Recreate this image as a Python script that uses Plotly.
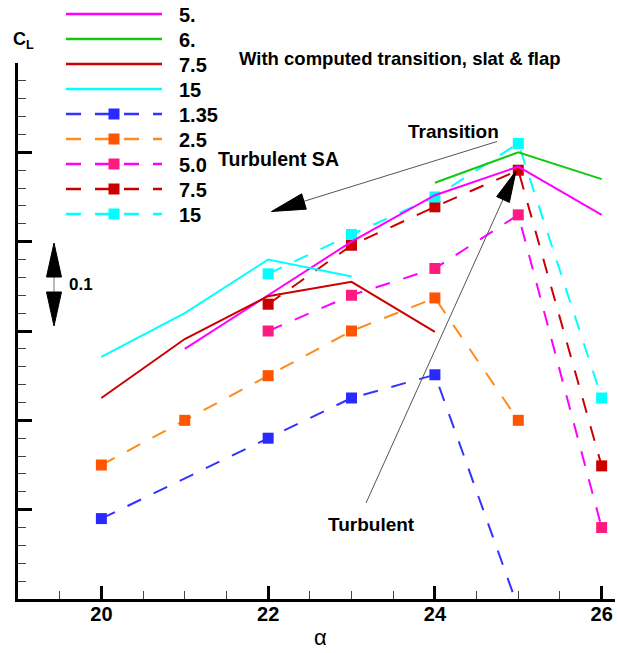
import plotly.graph_objects as go

# ---------------- data ----------------
# With computed transition (solid lines)
alpha_tr_5 = [21, 22, 23, 24, 25, 26]
cl_tr_5 = [2.680, 2.740, 2.800, 2.852, 2.884, 2.830]
alpha_tr_6 = [24, 25, 26]
cl_tr_6 = [2.866, 2.900, 2.870]
alpha_tr_75 = [20, 21, 22, 23, 24]
cl_tr_75 = [2.625, 2.691, 2.739, 2.755, 2.699]
alpha_tr_15 = [20, 21, 22, 23]
cl_tr_15 = [2.671, 2.720, 2.780, 2.761]

# Turbulent SA (dashed lines with square markers)
alpha_sa_135 = [20, 22, 23, 24, 25]
cl_sa_135 = [2.490, 2.580, 2.625, 2.651, 2.390]
alpha_sa_25 = [20, 21, 22, 23, 24, 25]
cl_sa_25 = [2.550, 2.600, 2.650, 2.700, 2.737, 2.600]
alpha_sa_50 = [22, 23, 24, 25, 26]
cl_sa_50 = [2.700, 2.740, 2.770, 2.830, 2.480]
alpha_sa_75 = [22, 23, 24, 25, 26]
cl_sa_75 = [2.730, 2.796, 2.839, 2.880, 2.549]
alpha_sa_15 = [22, 23, 24, 25, 26]
cl_sa_15 = [2.764, 2.808, 2.850, 2.910, 2.625]

x_ticks = [20, 22, 24, 26]
legend_labels = ["5.", "6.", "7.5", "15", "1.35", "2.5", "5.0", "7.5", "15"]

# ---------------- styles ----------------
MAG = "#ff00ff"
GRN = "#14c814"
DRED = "#cc0000"
CYAN = "#00ffff"
BLUE_L = "#3333ff"
BLUE_M = "#2a2aff"
ORG_L = "#ff8c1a"
ORG_M = "#ff5500"
PINK_M = "#ff1a80"
DASH = "15px,14px"
FONT = "Liberation Sans, Arial, sans-serif"

W, H = 618, 653
L, R, T, B = 18, 615, 63, 599
XR = [19.0, 26.16]
YR = [2.4, 3.0]


def pxp(px):
    return (px - L) / (R - L)


def pyp(py):
    return (B - py) / (B - T)


solid = [
    (alpha_tr_5, cl_tr_5, MAG),
    (alpha_tr_6, cl_tr_6, GRN),
    (alpha_tr_75, cl_tr_75, DRED),
    (alpha_tr_15, cl_tr_15, CYAN),
]
dashed = [
    (alpha_sa_135, cl_sa_135, BLUE_L, BLUE_M),
    (alpha_sa_25, cl_sa_25, ORG_L, ORG_M),
    (alpha_sa_50, cl_sa_50, MAG, PINK_M),
    (alpha_sa_75, cl_sa_75, DRED, DRED),
    (alpha_sa_15, cl_sa_15, CYAN, CYAN),
]

fig = go.Figure()
for (a, c, lc, mc), lab in zip(dashed, legend_labels[4:]):
    fig.add_trace(go.Scatter(x=a, y=c, mode="lines+markers", name=lab,
                             line=dict(color=lc, width=2, dash=DASH),
                             marker=dict(symbol="square", size=11, color=mc,
                                         line=dict(width=0)),
                             showlegend=False))
for (a, c, lc), lab in zip(solid, legend_labels[:4]):
    fig.add_trace(go.Scatter(x=a, y=c, mode="lines", name=lab,
                             line=dict(color=lc, width=2), showlegend=False))

shapes = []
annotations = []

# ---------------- manual legend ----------------
leg_y = [14, 39, 64, 89, 114, 139, 164, 189, 214]
leg_styles = [(c[2], None) for c in solid] + [(d[2], d[3]) for d in dashed]
for i, (lab, (lc, mc), yy) in enumerate(zip(legend_labels, leg_styles, leg_y)):
    shapes.append(dict(type="line", xref="paper", yref="paper",
                       x0=pxp(66), x1=pxp(162), y0=pyp(yy), y1=pyp(yy),
                       line=dict(color=lc, width=2.5,
                                 dash=DASH if mc else "solid")))
    if mc:
        shapes.append(dict(type="rect", xref="paper", yref="paper",
                           x0=pxp(108.5), x1=pxp(119.5),
                           y0=pyp(yy + 5.5), y1=pyp(yy - 5.5),
                           fillcolor=mc, line=dict(width=0)))
    annotations.append(dict(text="<b>%s</b>" % lab, xref="paper", yref="paper",
                            x=pxp(177), y=pyp(yy + 1), xanchor="left",
                            yanchor="middle", showarrow=False,
                            font=dict(size=20, color="black", family=FONT)))


def arrowhead(tip, base, half_w):
    dx, dy = tip[0] - base[0], tip[1] - base[1]
    ln = (dx * dx + dy * dy) ** 0.5
    nx, ny = -dy / ln * half_w, dx / ln * half_w
    pts = [tip, (base[0] + nx, base[1] + ny), (base[0] - nx, base[1] - ny)]
    path = "M " + " L ".join("%f,%f" % (pxp(p[0]), pyp(p[1])) for p in pts) + " Z"
    return dict(type="path", xref="paper", yref="paper", path=path,
                fillcolor="black", line=dict(color="black", width=1))


# Transition -> Turbulent SA arrow
shapes.append(dict(type="line", xref="paper", yref="paper",
                   x0=pxp(497), y0=pyp(141.5), x1=pxp(300), y1=pyp(202.5),
                   line=dict(color="#555555", width=1)))
shapes.append(arrowhead((271.5, 211.5), (304, 201.5), 8))
# Turbulent arrow
shapes.append(dict(type="line", xref="paper", yref="paper",
                   x0=pxp(366), y0=pyp(503), x1=pxp(505), y1=pyp(195),
                   line=dict(color="#555555", width=1)))
shapes.append(arrowhead((516, 171), (503, 199.5), 7))
# 0.1 scale double arrow
shapes.append(dict(type="line", xref="paper", yref="paper",
                   x0=pxp(54), y0=pyp(270), x1=pxp(54), y1=pyp(298),
                   line=dict(color="#777777", width=1)))
shapes.append(arrowhead((54, 243), (54, 277), 7.5))
shapes.append(arrowhead((54, 326), (54, 292), 7.5))

texts = [
    ("<b>With computed transition, slat & flap</b>", 400, 58, 18.5, "center"),
    ("<b>Transition</b>", 453, 131.5, 19, "center"),
    ("<b>Turbulent SA</b>", 278, 159, 19.5, "center"),
    ("<b>Turbulent</b>", 371, 524, 19, "center"),
    ("<b>0.1</b>", 67, 284, 17, "left"),
    ("<b>C<sub>L</sub></b>", 11, 41, 18, "left"),
    ("α", 320, 637, 22, "center"),
]
for t, x, y, s, anc in texts:
    annotations.append(dict(text=t, xref="paper", yref="paper", x=pxp(x),
                            y=pyp(y), xanchor=anc, yanchor="middle",
                            showarrow=False,
                            font=dict(size=s, color="black", family=FONT)))

fig.update_layout(
    width=W, height=H,
    margin=dict(l=L, r=W - R, t=T, b=H - B, pad=0),
    plot_bgcolor="white", paper_bgcolor="white",
    showlegend=False,
    shapes=shapes, annotations=annotations,
    font=dict(family=FONT, color="black"),
    xaxis=dict(range=XR, tickvals=x_ticks, ticks="inside", ticklen=13,
               tickwidth=3, tickcolor="black", showline=True, linewidth=3,
               linecolor="black", showgrid=False, zeroline=False,
               ticklabelstandoff=-5,
               tickfont=dict(size=20, family=FONT, color="black", weight="bold"),
               minor=dict(dtick=0.5, tick0=20, ticks="inside", ticklen=8,
                          tickwidth=1.2, tickcolor="#444444")),
    yaxis=dict(range=YR, dtick=0.1, tick0=2.4, ticks="inside", ticklen=14,
               tickwidth=3, tickcolor="black", showline=True, linewidth=3,
               linecolor="black", showgrid=False, zeroline=False,
               showticklabels=False,
               minor=dict(dtick=0.02, tick0=2.4, ticks="inside", ticklen=8,
                          tickwidth=1.2, tickcolor="#444444")),
)

fig.write_html("out.html")
